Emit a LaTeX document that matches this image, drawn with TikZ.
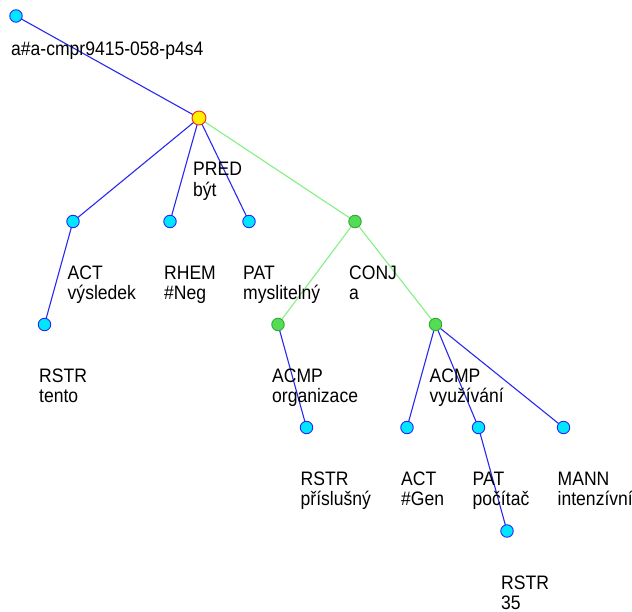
\documentclass[tikz,border=0pt]{standalone}
\usepackage{fontspec}
\setmainfont{Liberation Sans}[FakeStretch=0.9]
\usetikzlibrary{backgrounds}
\definecolor{cyanfill}{RGB}{0,230,255}
\definecolor{bluedge}{RGB}{40,40,240}
\definecolor{greenfill}{RGB}{85,220,85}
\definecolor{greenborder}{RGB}{50,170,50}
\definecolor{greenedge}{RGB}{130,240,130}
\definecolor{yellowfill}{RGB}{255,240,0}
\definecolor{redborder}{RGB}{240,40,40}
\newcommand{\lab}[2]{\begin{tabular}[t]{@{}l@{}}#1\\#2\end{tabular}}
\tikzset{
  tnode/.style={circle, inner sep=0pt, minimum size=12.5pt, line width=0.9pt},
  bnode/.style={tnode, fill=cyanfill, draw=bluedge},
  gnode/.style={tnode, fill=greenfill, draw=greenborder},
  rnode/.style={tnode, minimum size=14pt, fill=yellowfill, draw=redborder},
  lbl/.style={anchor=base west, inner sep=0pt, font=\fontsize{19.5}{20}\selectfont},
  bedge/.style={draw=bluedge, line width=1.1pt},
  gedge/.style={draw=greenedge, line width=1.1pt}
}
\renewcommand{\arraystretch}{1}
\begin{document}
\begin{tikzpicture}[x=1pt,y=1pt]
\useasboundingbox (0,0) rectangle (632,-612);
% nodes
\node[bnode] (root) at (16,-16) {};
\node[rnode] (pred) at (199,-118) {};
\node[bnode] (act) at (73,-221.5) {};
\node[bnode] (rstr1) at (44.5,-324.5) {};
\node[bnode] (rhem) at (170,-221.5) {};
\node[bnode] (pat) at (249,-221.5) {};
\node[gnode] (conj) at (355,-221.5) {};
\node[gnode] (acmp1) at (278,-324.5) {};
\node[gnode] (acmp2) at (435.5,-324.5) {};
\node[bnode] (rstr2) at (306.5,-427.5) {};
\node[bnode] (act2) at (407,-427.5) {};
\node[bnode] (pat2) at (478.5,-427.5) {};
\node[bnode] (mann) at (563.5,-427.5) {};
\node[bnode] (rstr3) at (507,-531) {};
% edges
\begin{pgfonlayer}{background}
\draw[bedge] (root.center) -- (pred.center);
\draw[bedge] (pred.center) -- (act.center);
\draw[bedge] (pred.center) -- (rhem.center);
\draw[bedge] (pred.center) -- (pat.center);
\draw[gedge] (pred.center) -- (conj.center);
\draw[bedge] (act.center) -- (rstr1.center);
\draw[gedge] (conj.center) -- (acmp1.center);
\draw[gedge] (conj.center) -- (acmp2.center);
\draw[bedge] (acmp1.center) -- (rstr2.center);
\draw[bedge] (acmp2.center) -- (act2.center);
\draw[bedge] (acmp2.center) -- (pat2.center);
\draw[bedge] (acmp2.center) -- (mann.center);
\draw[bedge] (pat2.center) -- (rstr3.center);
\end{pgfonlayer}
% labels
\node[lbl] (lroot) at (11,-56) {a\#a-cmpr9415-058-p4s4};
\node[lbl] (lpred) at (193,-176) {\lab{PRED}{být}};
\node[lbl] (lact) at (67.5,-279.5) {\lab{ACT}{výsledek}};
\node[lbl] (lrhem) at (164,-279.5) {\lab{RHEM}{\#Neg}};
\node[lbl] (lpat) at (243,-279.5) {\lab{PAT}{myslitelný}};
\node[lbl] (lconj) at (349,-279.5) {\lab{CONJ}{a}};
\node[lbl] (lrstr1) at (39,-382.5) {\lab{RSTR}{tento}};
\node[lbl] (lacmp1) at (272,-382.5) {\lab{ACMP}{organizace}};
\node[lbl] (lacmp2) at (429.5,-382.5) {\lab{ACMP}{využívání}};
\node[lbl] (lrstr2) at (300.5,-485.5) {\lab{RSTR}{příslušný}};
\node[lbl] (lact2) at (401,-485.5) {\lab{ACT}{\#Gen}};
\node[lbl] (lpat2) at (472.5,-485.5) {\lab{PAT}{počítač}};
\node[lbl] (lmann) at (557.5,-485.5) {\lab{MANN}{intenzívní}};
\node[lbl] (lrstr3) at (501,-589) {\lab{RSTR}{35}};
\end{tikzpicture}
\end{document}
